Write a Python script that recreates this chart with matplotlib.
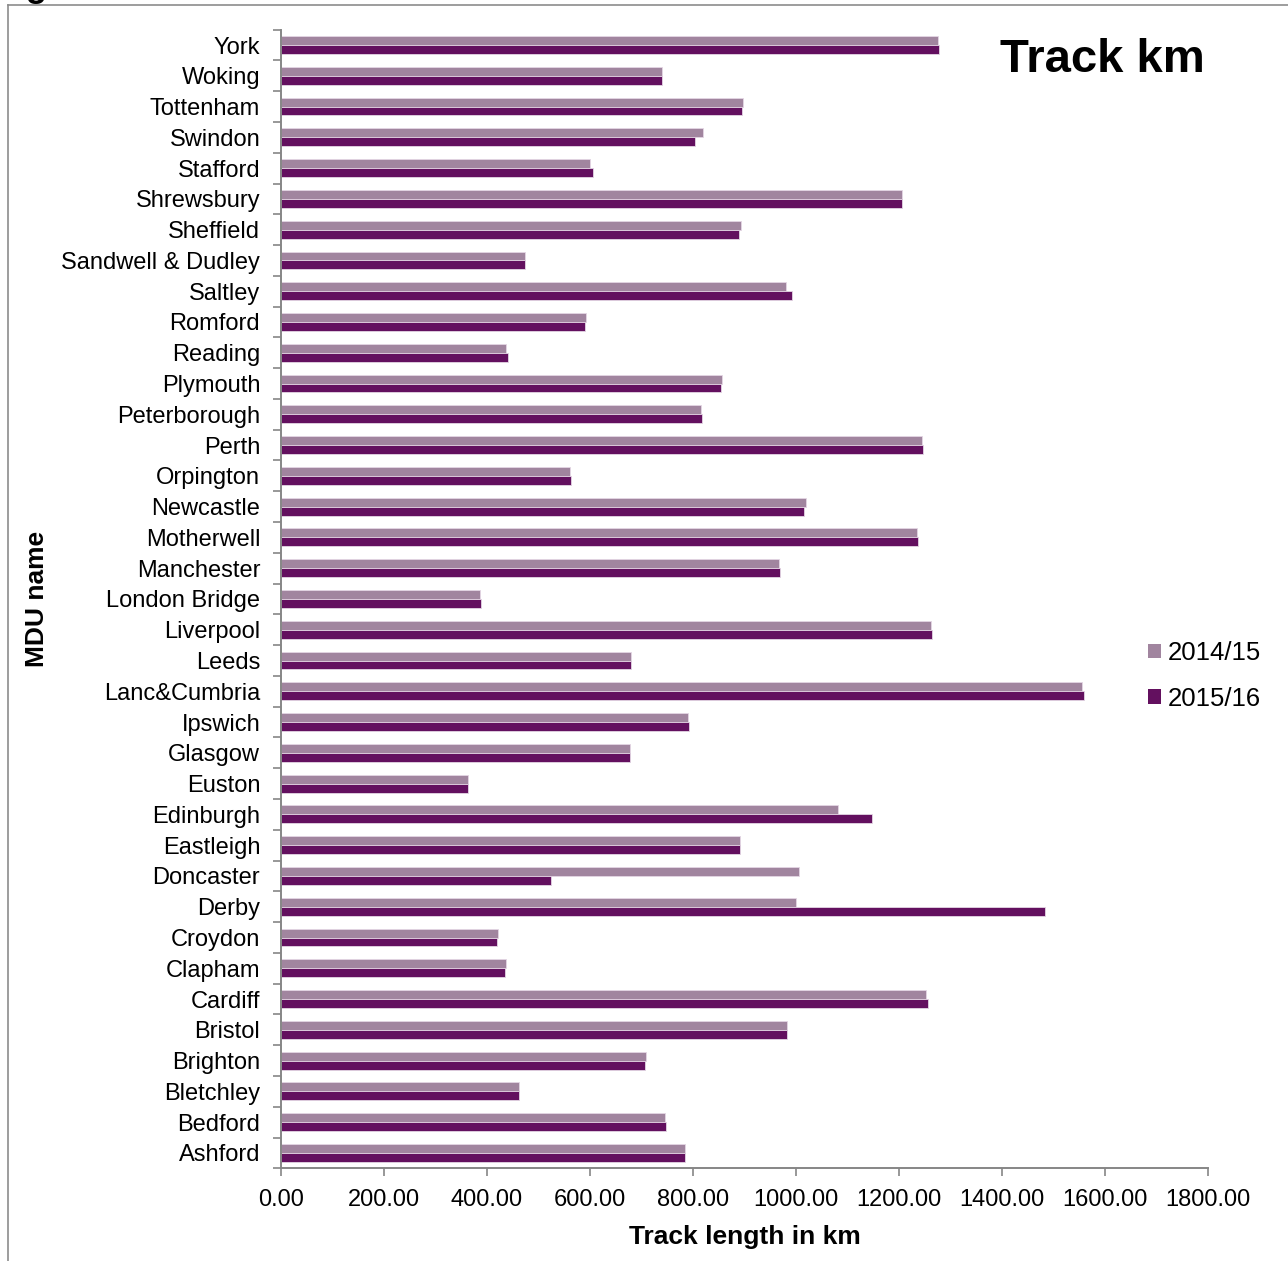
import matplotlib
matplotlib.use("Agg")
import matplotlib.pyplot as plt
import numpy as np
from matplotlib.patches import Patch
from matplotlib.lines import Line2D
from matplotlib.ticker import FormatStrFormatter, MultipleLocator

plt.rcParams["font.family"] = ["Liberation Sans", "DejaVu Sans"]

# MDU names, listed bottom to top on the chart
mdu_names = [
    "Ashford", "Bedford", "Bletchley", "Brighton", "Bristol", "Cardiff",
    "Clapham", "Croydon", "Derby", "Doncaster", "Eastleigh", "Edinburgh",
    "Euston", "Glasgow", "Ipswich", "Lanc&Cumbria", "Leeds", "Liverpool",
    "London Bridge", "Manchester", "Motherwell", "Newcastle", "Orpington",
    "Perth", "Peterborough", "Plymouth", "Reading", "Romford", "Saltley",
    "Sandwell & Dudley", "Sheffield", "Shrewsbury", "Stafford", "Swindon",
    "Tottenham", "Woking", "York",
]

track_km_2014_15 = [
    784, 745, 463, 708, 982, 1253,
    436, 421, 1000, 1006, 892, 1082,
    364, 678, 791, 1556, 680, 1263,
    386, 967, 1235, 1020, 562,
    1245, 815, 856, 436, 592, 981,
    474, 894, 1205, 600, 820,
    897, 739, 1276,
]

track_km_2015_16 = [
    784, 748, 463, 707, 983, 1256,
    434, 420, 1483, 524, 892, 1148,
    364, 677, 792, 1559, 680, 1265,
    388, 968, 1237, 1015, 563,
    1246, 817, 855, 441, 590, 993,
    474, 889, 1205, 605, 803,
    896, 739, 1278,
]

series_labels = ["2014/15", "2015/16"]
series_colors = ["#A1859F", "#63105F"]

fig = plt.figure(figsize=(12.88, 12.61), dpi=100)
ax = fig.add_axes([0.2182, 0.0735, 0.7197, 0.9030])

y = np.arange(len(mdu_names))
bar_h = 0.29
ax.barh(y + bar_h / 2, track_km_2014_15, height=bar_h, color=series_colors[0],
        edgecolor="#E4D6E4", linewidth=0.6)
ax.barh(y - bar_h / 2, track_km_2015_16, height=bar_h, color=series_colors[1],
        edgecolor="#E4D6E4", linewidth=0.6)

ax.set_xlim(0, 1800)
ax.set_ylim(-0.5, len(mdu_names) - 0.5)

ax.xaxis.set_major_locator(MultipleLocator(200))
ax.xaxis.set_major_formatter(FormatStrFormatter("%.2f"))

ax.set_yticks(y)
ax.set_yticklabels(mdu_names)
ax.set_yticks(np.arange(len(mdu_names) + 1) - 0.5, minor=True)
ax.tick_params(axis="y", which="major", length=0, pad=15, labelsize=17)
ax.tick_params(axis="y", which="minor", length=6, width=1.2, color="#868686",
               direction="out")
ax.tick_params(axis="x", which="major", length=6, width=1.2, color="#868686",
               direction="out", labelsize=17, pad=9)

for side in ("top", "right"):
    ax.spines[side].set_visible(False)
for side in ("left", "bottom"):
    ax.spines[side].set_color("#868686")
    ax.spines[side].set_linewidth(1.4)

ax.set_xlabel("Track length in km", fontsize=19, fontweight="bold", labelpad=10)
ax.set_ylabel("MDU name", fontsize=19, fontweight="bold", labelpad=9)

fig.text(1205 / 1288, 1 - 60 / 1261, "Track km", fontsize=34, fontweight="bold",
         ha="right", va="center")

handles = [Patch(facecolor=c, edgecolor="none") for c in series_colors]
fig.legend(handles, series_labels, loc="center left",
           bbox_to_anchor=(1130 / 1288, 1 - 676 / 1261), frameon=False,
           fontsize=18.5, handlelength=0.5, handleheight=0.5,
           handletextpad=0.25, labelspacing=0.85, borderpad=0.2)

# outer frame of the figure box and the caption above it, cut off at the top
fig.add_artist(Line2D([8 / 1288, 8 / 1288], [0, 1 - 5 / 1261],
                      transform=fig.transFigure, color="#8C8C8C", linewidth=1.2))
fig.add_artist(Line2D([8 / 1288, 1], [1 - 5 / 1261, 1 - 5 / 1261],
                      transform=fig.transFigure, color="#8C8C8C", linewidth=1.2))
fig.text(-4 / 1288, 1 + 3 / 1261, "Figure", fontsize=25, fontweight="bold",
         ha="left", va="baseline")

fig.savefig("out.png", dpi=100)
